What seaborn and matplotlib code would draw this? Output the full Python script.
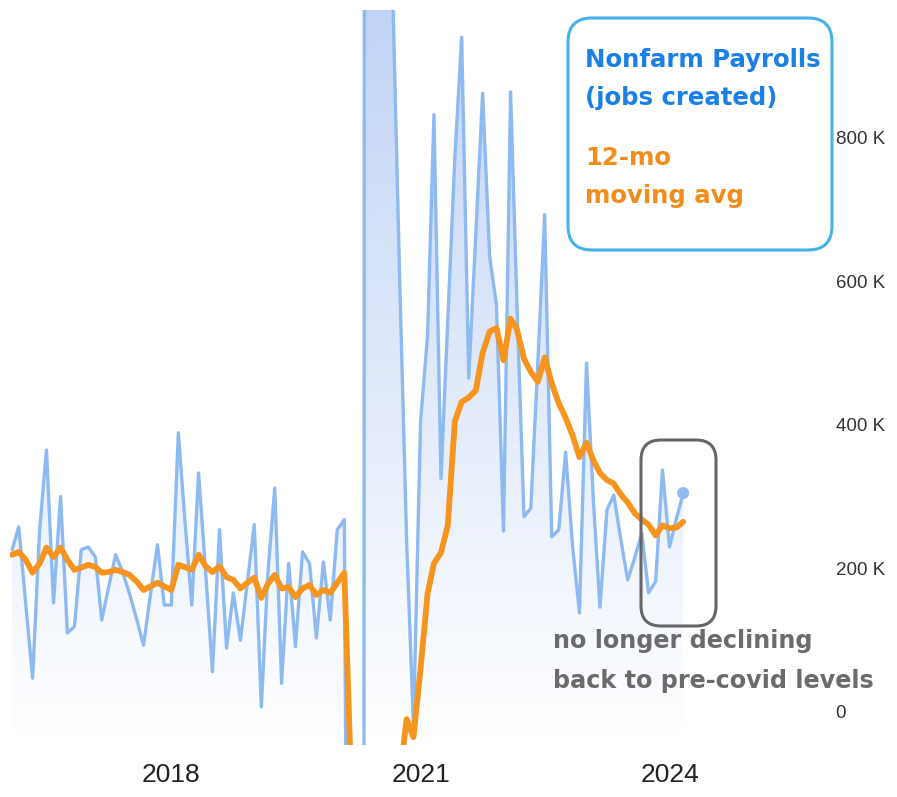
import numpy as np
import pandas as pd
import matplotlib
matplotlib.use("Agg")
import matplotlib.pyplot as plt
import matplotlib.dates as mdates
from matplotlib.colors import to_rgb
from matplotlib.patches import Polygon, FancyBboxPatch
import seaborn as sns

sns.set_theme(style="white")

# Monthly nonfarm payroll change (thousands), Feb 2016 - Mar 2024
months = pd.date_range("2016-02-01", "2024-03-01", freq="MS")
payrolls = [
    226, 258, 150, 47, 254, 365, 152, 300, 110, 119, 226,            # 2016 (Feb-Dec)
    230, 216, 128, 175, 219, 195, 165, 130, 93, 163, 233, 149,       # 2017
    149, 389, 270, 149, 333, 195, 56, 254, 89, 166, 100, 180,        # 2018
    261, 7, 190, 312, 40, 207, 91, 223, 207, 103, 209, 128,          # 2019
    254, 268, -1373, -20477, 2725, 4781, 1726, 1583, 1000, 607, 238, -20,  # 2020
    404, 525, 832, 325, 547, 773, 940, 465, 665, 862, 635, 567,      # 2021
    252, 864, 568, 272, 284, 487, 693, 244, 254, 362, 230, 138,      # 2022
    486, 290, 146, 282, 302, 240, 184, 215, 249, 166, 182, 337,      # 2023
    230, 270, 305,                                                   # 2024
]
# 12-month moving average as drawn (thousands)
moving_avg = [
    219, 223, 212, 194, 207, 229, 216, 229, 212, 198, 201,
    205, 202, 194, 195, 198, 195, 191, 182, 170, 175, 180, 175,
    170, 205, 202, 198, 219, 203, 195, 203, 188, 184, 172, 180,
    187, 159, 178, 191, 172, 174, 160, 172, 177, 163, 170, 166,
    180, 194, -90, -1700, -1480, -1130, -1000, -880, -800, -93, -10, -35,
    60, 165, 207, 222, 260, 405, 432, 438, 448, 500, 530, 535,
    490, 548, 533, 492, 474, 460, 494, 458, 430, 410, 385, 355,
    375, 350, 333, 323, 318, 303, 292, 277, 268, 261, 246, 260,
    256, 257, 265,
]
tick_years = ["2018", "2021", "2024"]
y_ticks = [0, 200, 400, 600, 800]
y_tick_labels = ["0", "200 K", "400 K", "600 K", "800 K"]

df = pd.DataFrame({"month": months, "payrolls": payrolls, "avg": moving_avg})

blue = "#8dbaf0"
orange = "#f7941d"
ymin, ymax = -46, 978

fig = plt.figure(figsize=(8.97, 7.97), dpi=100)
ax = fig.add_axes([10 / 897, 52 / 797, 816 / 897, 735 / 797])

sns.lineplot(data=df, x="month", y="payrolls", color=blue, lw=2.4,
             estimator=None, ax=ax, zorder=3)
sns.lineplot(data=df, x="month", y="avg", color=orange, lw=4.2,
             estimator=None, ax=ax, zorder=4)
ax.scatter(df["month"].iloc[-1], df["payrolls"].iloc[-1], s=75,
           color=blue, edgecolor="none", zorder=5)

# gradient fill under the payroll line
xn = mdates.date2num(df["month"])
yv = df["payrolls"].to_numpy(dtype=float)
verts = np.column_stack([np.r_[xn[0], xn, xn[-1]], np.r_[ymin, yv, ymin]])
poly = Polygon(verts, closed=True, facecolor="none", edgecolor="none",
               transform=ax.transData)
ax.add_patch(poly)
rgba = np.zeros((256, 1, 4))
rgba[..., :3] = to_rgb("#7ea6ee")
rgba[:, 0, 3] = 0.48 * np.linspace(0, 1, 256)
im = ax.imshow(rgba, extent=[xn[0], xn[-1], ymin, ymax], origin="lower",
               aspect="auto", zorder=1, interpolation="bilinear")
im.set_clip_path(poly)

base = mdates.date2num(pd.Timestamp("2016-01-01"))
ax.set_xlim(base + 0.71 * 30.44, base + 118.6 * 30.44)
ax.set_ylim(ymin, ymax)

ax.set_xticks([mdates.date2num(pd.Timestamp(f"{y}-01-01")) for y in tick_years])
ax.set_xticklabels(tick_years)
ax.yaxis.tick_right()
ax.set_yticks(y_ticks)
ax.set_yticklabels(y_tick_labels)
ax.tick_params(axis="both", length=0)
ax.tick_params(axis="x", pad=13, labelsize=19, labelcolor="#222222")
ax.tick_params(axis="y", pad=7, labelsize=13.5, labelcolor="#333333")
for lbl in ax.get_xticklabels() + ax.get_yticklabels():
    lbl.set_family("Liberation Sans")
ax.set_xlabel("")
ax.set_ylabel("")
ax.grid(False)
sns.despine(ax=ax, left=True, bottom=True, right=True, top=True)

# overlay in pixel coordinates for legend box and annotation
ov = fig.add_axes([0, 0, 1, 1], zorder=10)
ov.set_xlim(0, 897)
ov.set_ylim(797, 0)
ov.axis("off")

ov.add_patch(FancyBboxPatch((568, 18), 264, 232,
                            boxstyle="round,pad=0,rounding_size=24",
                            ec="#45b2ea", fc="white", lw=2.2))
txt = dict(fontweight="bold", va="center", ha="left", family="DejaVu Sans")
ov.text(585, 60, "Nonfarm Payrolls", color="#1a80e6", fontsize=17.6, **txt)
ov.text(585, 98, "(jobs created)", color="#1a80e6", fontsize=17.6, **txt)
ov.text(585, 158, "12-mo", color="#f28c1a", fontsize=17.6, **txt)
ov.text(585, 196, "moving avg", color="#f28c1a", fontsize=17.6, **txt)

ov.add_patch(FancyBboxPatch((641, 440), 75, 186,
                            boxstyle="round,pad=0,rounding_size=20",
                            ec="#666666", fc="none", lw=2.2))
ov.text(553, 641, "no longer declining", color="#6b6b6b", fontsize=17.2, **txt)
ov.text(553, 681, "back to pre-covid levels", color="#6b6b6b", fontsize=17.2, **txt)

fig.savefig("out.png", dpi=100)
